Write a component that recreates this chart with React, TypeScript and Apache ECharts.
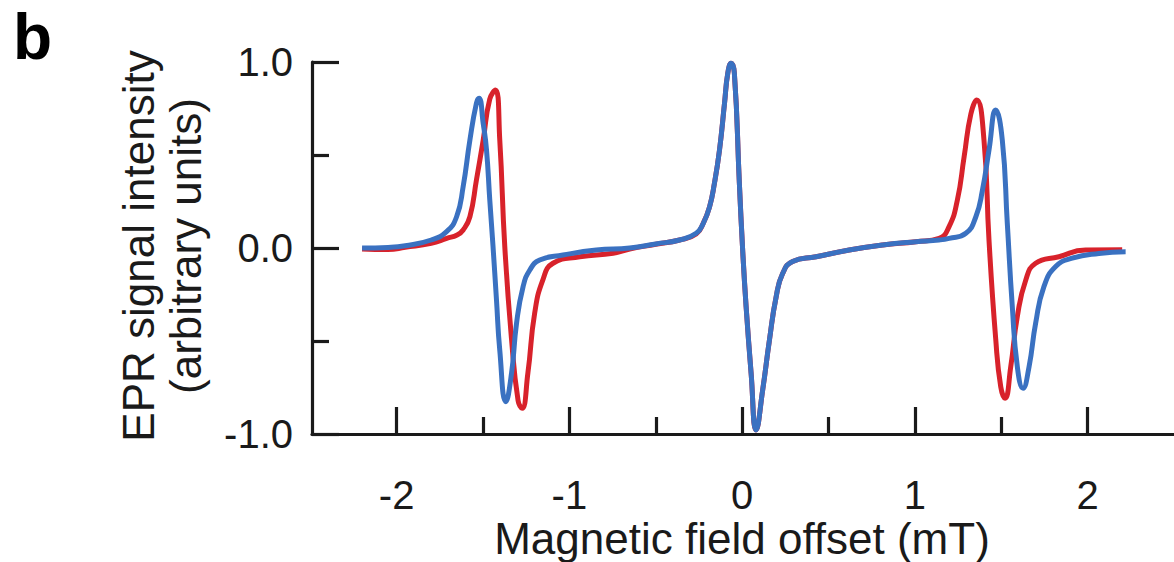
import React, { useEffect, useRef } from "react";
import * as echarts from "echarts";

// Magnetic field offset (mT) and EPR signal (arbitrary units)
const redField = [
  -2.2, -2.05, -1.95, -1.8, -1.71, -1.65, -1.615, -1.576, -1.538, -1.499, -1.461, -1.428,
  -1.403, -1.374, -1.335, -1.297, -1.274, -1.24, -1.201, -1.153, -1.095, -0.94, -0.747,
  -0.651, -0.5, -0.362, -0.266, -0.225, -0.189, -0.16, -0.131, -0.102, -0.083, -0.064,
  -0.045, -0.016, 0.003, 0.023, 0.052, 0.081, 0.119, 0.158, 0.197, 0.235, 0.292, 0.428,
  0.62, 0.813, 1.006, 1.14, 1.198, 1.246, 1.285, 1.324, 1.358, 1.4, 1.429, 1.468, 1.497,
  1.522, 1.555, 1.593, 1.642, 1.699, 1.834, 1.988, 2.2,
];
const redSignal = [
  -0.005, -0.008, 0.004, 0.025, 0.052, 0.07, 0.097, 0.168, 0.366, 0.58, 0.8, 0.849,
  0.58, 0.007, -0.49, -0.82, -0.862, -0.67, -0.35, -0.17, -0.082, -0.047, -0.028,
  -0.005, 0.02, 0.043, 0.075, 0.133, 0.22, 0.35, 0.527, 0.778, 0.94, 0.993,
  0.94, 0.348, -0.01, -0.315, -0.674, -0.978, -0.763, -0.495, -0.262, -0.136, -0.073, -0.047,
  -0.011, 0.016, 0.034, 0.052, 0.115, 0.258, 0.49, 0.72, 0.796, 0.58, 0.043, -0.49, -0.746,
  -0.808, -0.638, -0.369, -0.172, -0.082, -0.047, -0.011, -0.01,
];

const blueField = [
  -2.2, -2.05, -1.95, -1.8, -1.711, -1.653, -1.615, -1.576, -1.538, -1.523, -1.499, -1.48,
  -1.461, -1.442, -1.422, -1.403, -1.368, -1.335, -1.306, -1.268, -1.229, -1.172, -1.037,
  -0.844, -0.651, -0.5, -0.362, -0.266, -0.225, -0.189, -0.16, -0.131, -0.102, -0.083,
  -0.064, -0.045, -0.016, 0.003, 0.023, 0.052, 0.081, 0.119, 0.158, 0.197, 0.235, 0.292,
  0.428, 0.62, 0.813, 1.006, 1.14, 1.198, 1.295, 1.353, 1.391, 1.429, 1.468, 1.506, 1.535,
  1.564, 1.593, 1.626, 1.661, 1.699, 1.747, 1.815, 1.911, 2.065, 2.22,
];
const blueSignal = [
  0.0, 0.003, 0.012, 0.043, 0.088, 0.168, 0.33, 0.58, 0.78, 0.805, 0.67, 0.53,
  0.26, 0.007, -0.28, -0.55, -0.826, -0.674, -0.405, -0.208, -0.118, -0.065, -0.038,
  -0.011, 0.0, 0.022, 0.043, 0.079, 0.133, 0.22, 0.35, 0.527, 0.778, 0.94,
  0.993, 0.94, 0.348, -0.01, -0.315, -0.674, -0.978, -0.763, -0.495, -0.262, -0.136, -0.073,
  -0.047, -0.011, 0.016, 0.034, 0.043, 0.052, 0.079, 0.168, 0.31, 0.527, 0.742, 0.58, 0.133,
  -0.315, -0.638, -0.754, -0.638, -0.405, -0.208, -0.1, -0.055, -0.029, -0.02,
];

const xMajorTicks = [-2, -1, 0, 1, 2];
const xMinorTicks = [-1.5, -0.5, 0.5, 1.5];
const xTitle = "Magnetic field offset (mT)";
const yTitle = "EPR signal intensity\n(arbitrary units)";
const panelLabel = "b";

const FONT = "'Liberation Sans', Arial, Helvetica, sans-serif";
const INK = "#1a1a1a";
const RED = "#d8222b";
const BLUE = "#3a71c1";

const zip = (xs: number[], ys: number[]) => xs.map((x, i) => [x, ys[i]]);

export default function App() {
  const ref = useRef<HTMLDivElement>(null);
  useEffect(() => {
    if (!ref.current) return;
    const chart = echarts.init(ref.current, undefined, { renderer: "svg" });
    const grid = { left: 312, top: 62, width: 865, height: 372 };
    const tickLine = { color: INK, width: 3.2 };
    chart.setOption({
      animation: false,
      backgroundColor: "#ffffff",
      grid: [grid, { ...grid }],
      xAxis: [
        {
          type: "value",
          gridIndex: 0,
          min: -2.49,
          max: 2.5,
          position: "bottom",
          axisLine: { show: true, onZero: false, lineStyle: tickLine },
          axisTick: { show: true, inside: true, length: 27, lineStyle: tickLine, customValues: xMajorTicks },
          axisLabel: {
            customValues: xMajorTicks,
            margin: 41,
            fontSize: 40,
            lineHeight: 40,
            color: INK,
            fontFamily: FONT,
          },
          splitLine: { show: false },
        },
        {
          type: "value",
          gridIndex: 1,
          min: -2.49,
          max: 2.5,
          position: "bottom",
          axisLine: { show: false, onZero: false },
          axisTick: { show: true, inside: true, length: 17, lineStyle: tickLine, customValues: xMinorTicks },
          axisLabel: { show: false },
          splitLine: { show: false },
        },
      ],
      yAxis: [
        {
          type: "value",
          gridIndex: 0,
          min: -1,
          max: 1,
          interval: 1,
          axisLine: { show: true, onZero: false, lineStyle: tickLine },
          axisTick: { show: true, inside: true, length: 27, lineStyle: tickLine },
          minorTick: { show: true, splitNumber: 2, length: 17, lineStyle: tickLine },
          minorSplitLine: { show: false },
          axisLabel: {
            formatter: (v: number) => v.toFixed(1),
            margin: 19,
            fontSize: 40,
            lineHeight: 40,
            color: INK,
            fontFamily: FONT,
          },
          splitLine: { show: false },
        },
        { type: "value", gridIndex: 1, min: -1, max: 1, show: false },
      ],
      graphic: [
        {
          type: "text",
          x: 13,
          y: 37,
          style: {
            text: panelLabel,
            font: `bold 64px ${FONT}`,
            fill: "#000",
            textAlign: "left",
            textVerticalAlign: "middle",
          },
        },
        {
          type: "text",
          x: 742,
          y: 538,
          style: {
            text: xTitle,
            font: `44px ${FONT}`,
            lineHeight: 44,
            fill: INK,
            textAlign: "center",
            textVerticalAlign: "middle",
          },
        },
        {
          type: "text",
          x: 162,
          y: 246,
          rotation: Math.PI / 2,
          style: {
            text: yTitle,
            font: `44px ${FONT}`,
            lineHeight: 47,
            fill: INK,
            textAlign: "center",
            textVerticalAlign: "middle",
          },
        },
      ],
      series: [
        {
          name: "red",
          type: "line",
          xAxisIndex: 0,
          yAxisIndex: 0,
          data: zip(redField, redSignal),
          showSymbol: false,
          smooth: 0.5,
          lineStyle: { color: RED, width: 5 },
          z: 2,
        },
        {
          name: "blue",
          type: "line",
          xAxisIndex: 0,
          yAxisIndex: 0,
          data: zip(blueField, blueSignal),
          showSymbol: false,
          smooth: 0.5,
          lineStyle: { color: BLUE, width: 5 },
          z: 3,
        },
      ],
    });
    return () => chart.dispose();
  }, []);
  return (
    <div
      ref={ref}
      style={{ position: "fixed", left: 0, top: 0, width: 1174, height: 562, background: "#fff" }}
    />
  );
}
